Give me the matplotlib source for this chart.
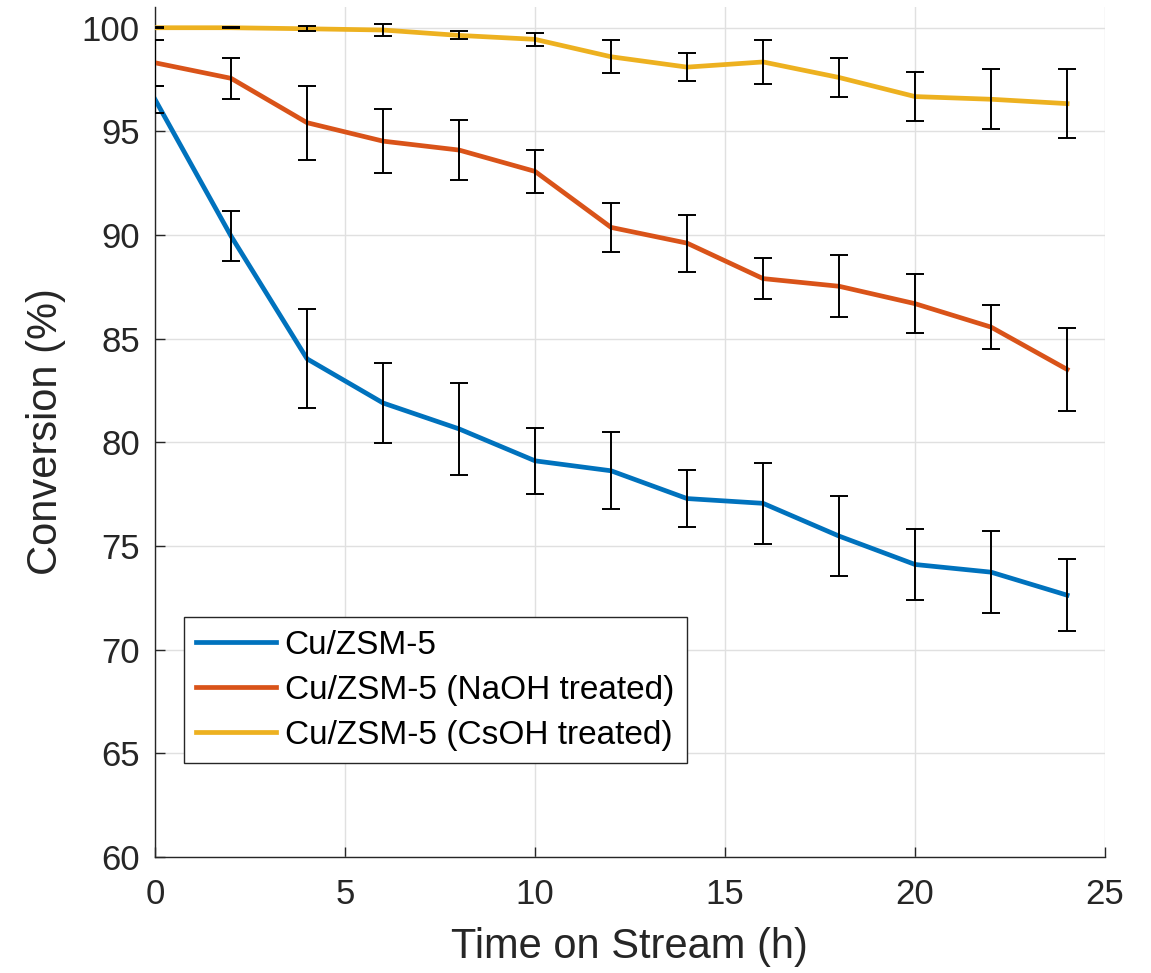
import matplotlib
matplotlib.use('Agg')
import matplotlib.pyplot as plt

plt.rcParams['font.family'] = ['Liberation Sans', 'DejaVu Sans']

# time on stream (h)
time_h = [0, 2, 4, 6, 8, 10, 12, 14, 16, 18, 20, 22, 24]

# conversion (%) and error bars
cu = [96.54, 89.95, 84.03, 81.90, 80.65, 79.11, 78.63, 77.29, 77.06, 75.48, 74.11, 73.74, 72.63]
cu_err = [0.66, 1.20, 2.38, 1.93, 2.23, 1.58, 1.85, 1.37, 1.95, 1.94, 1.70, 1.98, 1.73]

naoh = [98.31, 97.56, 95.42, 94.53, 94.10, 93.07, 90.37, 89.61, 87.90, 87.53, 86.69, 85.56, 83.52]
naoh_err = [1.10, 1.00, 1.78, 1.55, 1.46, 1.05, 1.17, 1.37, 0.97, 1.50, 1.43, 1.05, 2.00]

csoh = [100.0, 100.0, 99.95, 99.89, 99.63, 99.44, 98.60, 98.10, 98.35, 97.60, 96.68, 96.55, 96.34]
csoh_err = [0.02, 0.02, 0.13, 0.28, 0.19, 0.30, 0.80, 0.68, 1.04, 0.96, 1.20, 1.45, 1.65]

labels = ['Cu/ZSM-5', 'Cu/ZSM-5 (NaOH treated)', 'Cu/ZSM-5 (CsOH treated)']
colors = ['#0072BD', '#D95319', '#EDB120']

txt = '#262626'

fig = plt.figure(figsize=(11.51, 9.73), dpi=100)
ax = fig.add_axes([0.1347, 0.1192, 0.8254, 0.8736])

series = [(cu, cu_err), (naoh, naoh_err), (csoh, csoh_err)]
for (vals, errs), lab, col in zip(series, labels, colors):
  ax.plot(time_h, vals, color=col, lw=3.4, label=lab, zorder=3)
for vals, errs in series:
  ax.errorbar(time_h, vals, yerr=errs, fmt='none', ecolor='black',
              elinewidth=1.4, capsize=6.5, capthick=1.4, zorder=4)

ax.set_xlim(0, 25)
ax.set_ylim(60, 101)
ax.set_xticks([0, 5, 10, 15, 20, 25])
ax.set_yticks([60, 65, 70, 75, 80, 85, 90, 95, 100])

ax.grid(True, color='#e0e0e0', lw=1.0)
ax.set_axisbelow(True)

for side in ['top', 'right']:
  ax.spines[side].set_visible(False)
for side in ['left', 'bottom']:
  ax.spines[side].set_color(txt)
  ax.spines[side].set_linewidth(1.0)

ax.tick_params(axis='both', direction='in', length=7, width=1.0,
               colors=txt, labelsize=25, labelcolor=txt)
ax.tick_params(axis='x', pad=15)
ax.tick_params(axis='y', pad=11)

ax.set_xlabel('Time on Stream (h)', fontsize=30, color=txt)
ax.set_ylabel('Conversion (%)', fontsize=30, color=txt)
ax.xaxis.set_label_coords(0.4995, -0.082)
ax.yaxis.set_label_coords(-0.094, 0.5)

leg = ax.legend(loc='upper left', bbox_to_anchor=(0.03, 0.2824), fontsize=24,
                frameon=True, fancybox=False, edgecolor=txt, framealpha=1.0,
                handlelength=2.4, labelspacing=0.42, borderpad=0.38,
                handletextpad=0.25, borderaxespad=0.0)
leg.get_frame().set_linewidth(1.0)

plt.savefig('out.png', dpi=100)
